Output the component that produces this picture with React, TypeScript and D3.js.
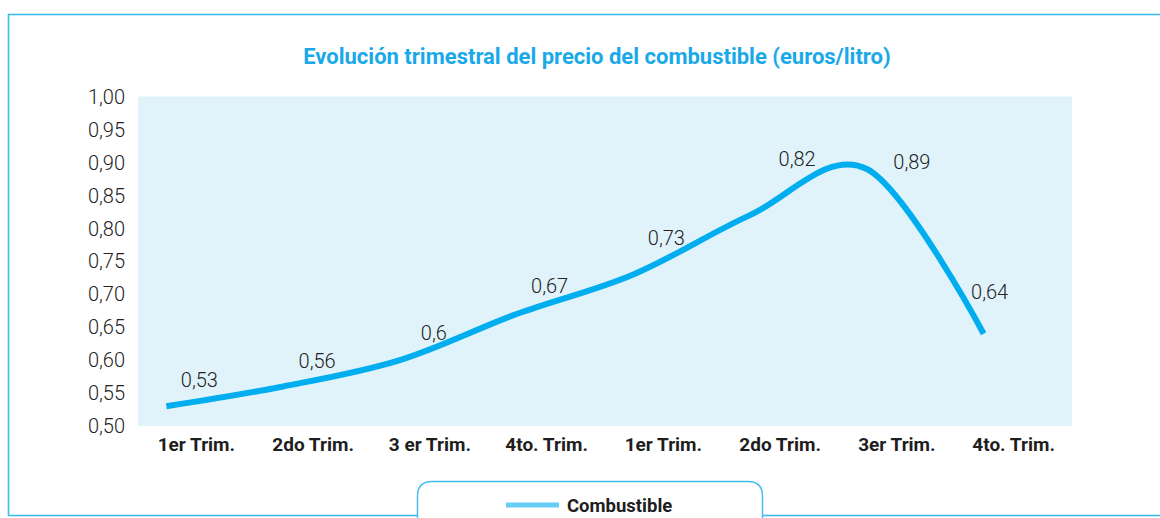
import React from "react";
import * as d3 from "d3";

const categories = ["1er Trim.", "2do Trim.", "3 er Trim.", "4to. Trim.", "1er Trim.", "2do Trim.", "3er Trim.", "4to. Trim."];
const values = [0.53, 0.56, 0.6, 0.67, 0.73, 0.82, 0.89, 0.64];
const valueLabels = ["0,53", "0,56", "0,6", "0,67", "0,73", "0,82", "0,89", "0,64"];
const yTicks = [0.5, 0.55, 0.6, 0.65, 0.7, 0.75, 0.8, 0.85, 0.9, 0.95, 1.0];
const seriesName = "Combustible";
const title = "Evolución trimestral del precio del combustible (euros/litro)";

// layout tweaks for value labels (px, relative to band centre / value position)
const labelDx = [3, 4, 4, 3, 3, 17, 15, -24];
const labelDy = [-26, -26, -27, -28, -37, -56, -7, -42];

const W = 1160;
const H = 518;
const plot = { left: 138, right: 1072, top: 96.5, bottom: 426 };
const lineShift = -30;

const frameColor = "#3dbcef";
const lineColor = "#00aeef";
const legendLineColor = "#66cdf5";
const plotBg = "#e0f3fb";
const textColor = "#222";
const font = "Roboto, 'Noto Sans', sans-serif";

export default function App() {
  const x = d3.scaleBand<number>().domain(d3.range(categories.length)).range([plot.left, plot.right]);
  const y = d3.scaleLinear().domain([0.5, 1.0]).range([plot.bottom, plot.top]);
  const cx = (i: number) => (x(i) as number) + x.bandwidth() / 2;

  const line = d3
    .line<number>()
    .x((_, i) => cx(i) + lineShift)
    .y((d) => y(d))
    .curve(d3.curveCardinal.tension(0));

  const fmt = (v: number) => v.toFixed(2).replace(".", ",");

  return (
    <svg width={W} height={H} style={{ position: "absolute", left: 0, top: 0 }} fontFamily={font}>
      <rect x={0} y={0} width={W} height={H} fill="#fff" />
      {/* outer frame */}
      <rect x={8.5} y={14.5} width={W + 10} height={501} fill="none" stroke={frameColor} strokeWidth={1.6} />
      {/* title */}
      <text x={597} y={64} textAnchor="middle" fontSize={22} fontWeight={700} fill="#1aa9e8">
        {title}
      </text>
      {/* plot background */}
      <rect x={plot.left} y={plot.top} width={plot.right - plot.left} height={plot.bottom - plot.top} fill={plotBg} />
      {/* y ticks */}
      {yTicks.map((t) => (
        <text key={t} x={125} y={y(t)} dy="0.36em" textAnchor="end" fontSize={20} fontWeight={300} fill={textColor}>
          {fmt(t)}
        </text>
      ))}
      {/* x labels */}
      {categories.map((c, i) => (
        <text key={i} x={cx(i)} y={451} textAnchor="middle" fontSize={19} fontWeight={700} fill="#1e1e1e">
          {c}
        </text>
      ))}
      {/* line */}
      <path d={line(values) || ""} fill="none" stroke={lineColor} strokeWidth={6} strokeLinejoin="round" />
      {/* value labels */}
      {values.map((v, i) => (
        <text
          key={i}
          x={cx(i) + labelDx[i]}
          y={y(v) + labelDy[i]}
          dy="0.36em"
          textAnchor="middle"
          fontSize={20}
          fontWeight={300}
          fill={textColor}
        >
          {valueLabels[i]}
        </text>
      ))}
      {/* legend */}
      <path
        d={`M417.5,${H + 10} L417.5,496 Q417.5,481.5 432,481.5 L748,481.5 Q762.5,481.5 762.5,496 L762.5,${H + 10}`}
        fill="#fff"
        stroke={frameColor}
        strokeWidth={1.4}
      />
      <line x1={506} x2={559} y1={505} y2={505} stroke={legendLineColor} strokeWidth={5} />
      <text x={567} y={511.5} fontSize={18.5} fontWeight={700} fill="#1e1e1e">
        {seriesName}
      </text>
    </svg>
  );
}
